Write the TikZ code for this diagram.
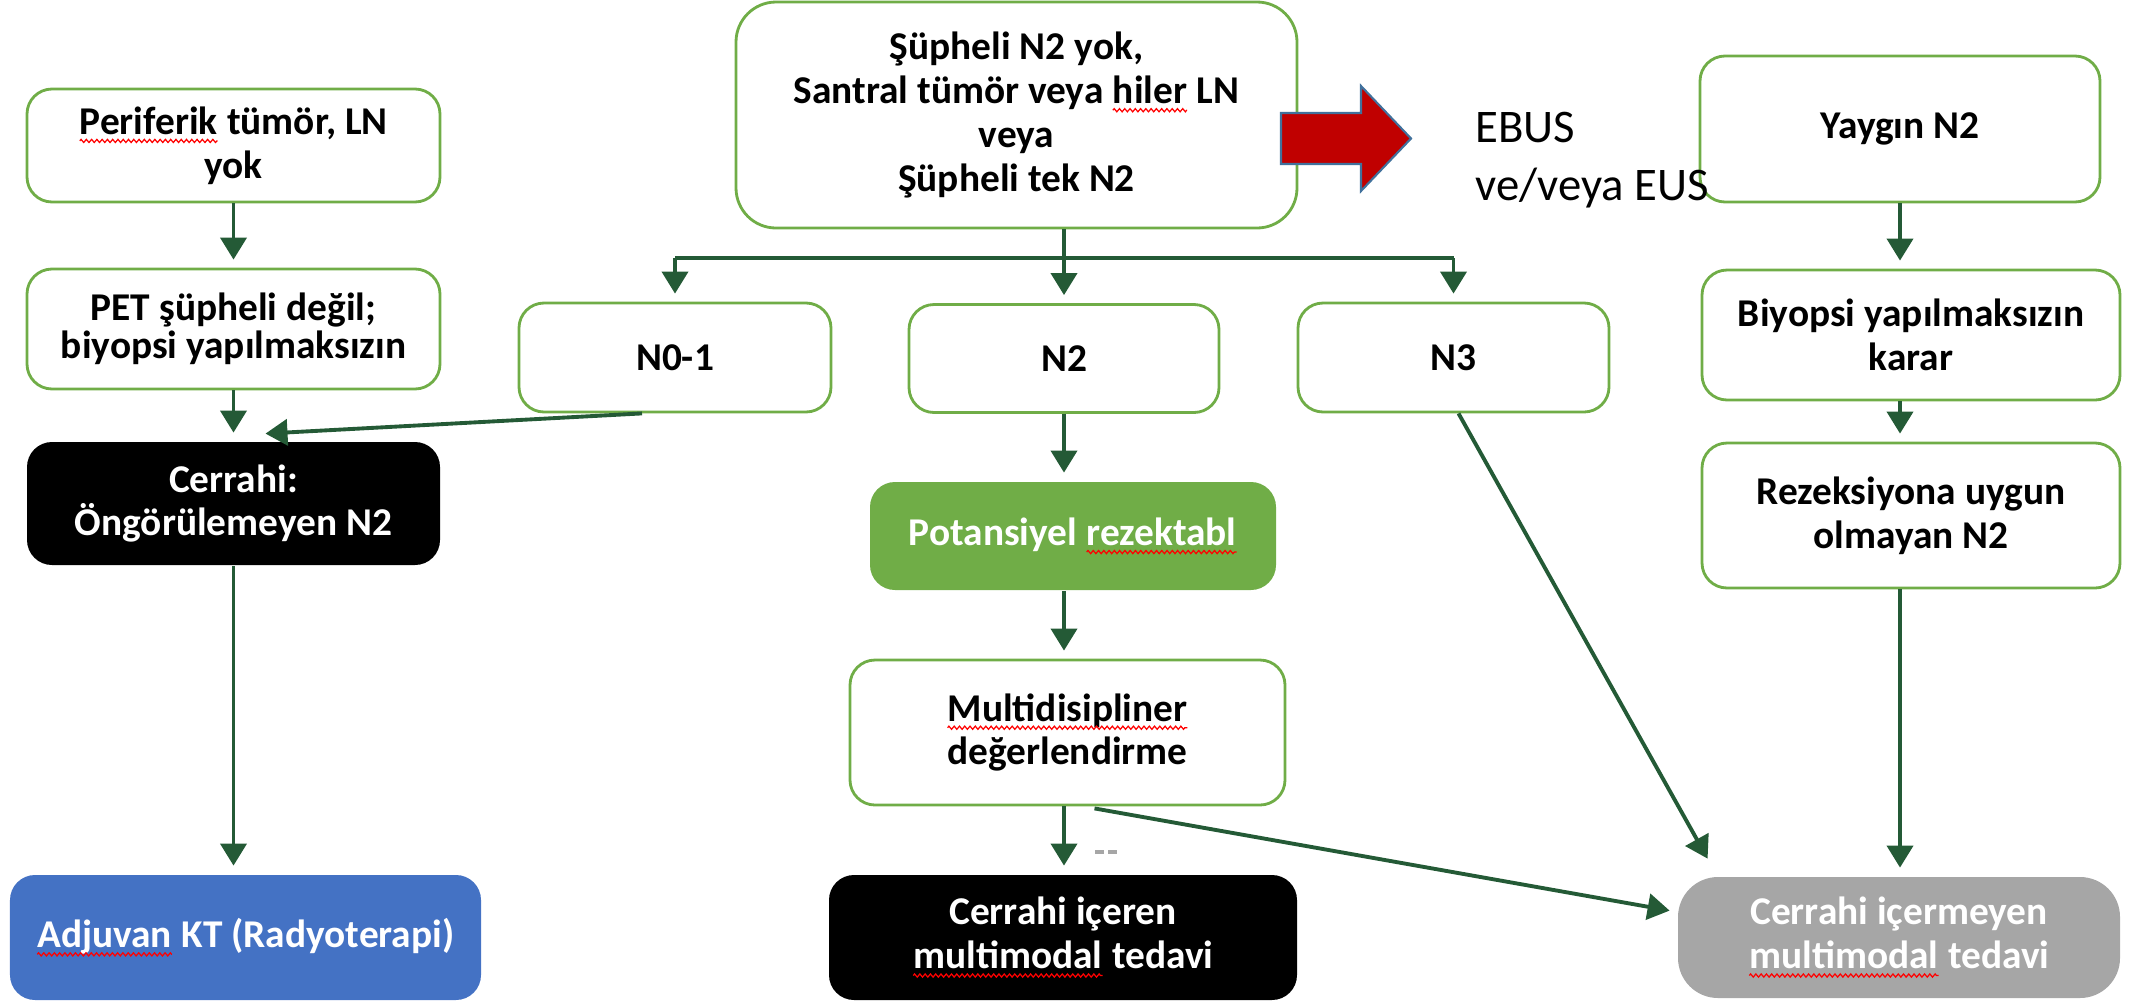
\documentclass[tikz,border=0pt]{standalone}
\usepackage{fontspec}
\setmainfont{Carlito}
\usetikzlibrary{arrows.meta,calc,decorations.pathmorphing}

% red wavy spell-check underline under a word
\newcommand\sqw[1]{\tikz[baseline=(sqwt.base)]{%
  \node[inner sep=0pt, outer sep=0pt, draw=none, fill=none, rounded corners=0pt,
    minimum width=0pt, minimum height=0pt, anchor=base] (sqwt) {#1};
  \draw[red, line width=0.35pt, rounded corners=0pt, decorate,
    decoration={zigzag, amplitude=0.45pt, segment length=1.5pt}]
    ([yshift=-1.9pt]sqwt.base west) -- ([yshift=-1.9pt]sqwt.base east);}}

\definecolor{bordergreen}{HTML}{70AD47}
\definecolor{linkgreen}{HTML}{245A36}
\definecolor{boxblue}{HTML}{4472C4}
\definecolor{boxgrey}{HTML}{A6A6A6}
\definecolor{arrowred}{HTML}{C00000}
\definecolor{arrowedge}{HTML}{41719C}

\tikzset{
  box/.style={draw=bordergreen, line width=0.8pt, rounded corners=0.25cm, fill=white,
    align=center, inner sep=0pt, font=\bfseries\fontsize{11.2}{12.5}\selectfont},
  darkbox/.style={box, draw=none, fill=black, text=white},
  link/.style={draw=linkgreen, line width=1.1pt, shorten >=0.08cm,
    -{Triangle[width=0.26cm,length=0.22cm]}},
  linkplain/.style={draw=linkgreen, line width=1.1pt},
}

\begin{document}
\begin{tikzpicture}
\useasboundingbox (0,0) rectangle (21.36,-10.01);

% left column
\node[box, minimum width=4.13cm, minimum height=1.13cm] (peri) at (2.335,-1.455)
  {\sqw{Periferik} tümör, LN\\yok};
\node[box, minimum width=4.13cm, minimum height=1.20cm,
  font=\bfseries\fontsize{11.2}{10.9}\selectfont] (pet) at (2.335,-3.29)
  {PET şüpheli değil;\\biyopsi yapılmaksızın};
\node[darkbox, minimum width=4.13cm, minimum height=1.23cm] (cerr1) at (2.335,-5.035)
  {Cerrahi:\\Öngörülemeyen N2};
\node[darkbox, fill=boxblue, minimum width=4.71cm, minimum height=1.25cm] (adj) at (2.455,-9.375)
  {\sqw{Adjuvan} KT (Radyoterapi)};

% centre column
\node[box, rounded corners=0.4cm, minimum width=5.61cm, minimum height=2.26cm] (top) at (10.165,-1.15)
  {Şüpheli N2 yok,\\Santral tümör veya \sqw{hiler} LN\\veya\\Şüpheli tek N2};
\node[box, minimum width=3.12cm, minimum height=1.09cm] (n01) at (6.75,-3.575) {N0-1};
\node[box, minimum width=3.10cm, minimum height=1.08cm] (n2) at (10.64,-3.585) {N2};
\node[box, minimum width=3.11cm, minimum height=1.09cm] (n3) at (14.535,-3.575) {N3};
\node[darkbox, fill=bordergreen, minimum width=4.06cm, minimum height=1.08cm] (pot) at (10.73,-5.36)
  {Potansiyel \sqw{rezektabl}};
\node[box, minimum width=4.35cm, minimum height=1.45cm] (multi) at (10.675,-7.325)
  {\sqw{Multidisipliner}\\değerlendirme};
\node[darkbox, minimum width=4.68cm, minimum height=1.25cm] (cerr2) at (10.63,-9.375)
  {Cerrahi içeren\\\sqw{multimodal} tedavi};

% right column
\node[box, minimum width=4.00cm, minimum height=1.46cm] (yay) at (19.00,-1.29) {Yaygın N2};
\node[box, minimum width=4.18cm, minimum height=1.30cm] (biy) at (19.11,-3.35)
  {Biyopsi yapılmaksızın\\karar};
\node[box, minimum width=4.18cm, minimum height=1.45cm] (rez) at (19.11,-5.155)
  {Rezeksiyona uygun\\olmayan N2};
\node[darkbox, fill=boxgrey, rounded corners=0.4cm, minimum width=4.42cm, minimum height=1.21cm]
  (grey) at (18.99,-9.375) {Cerrahi içermeyen\\\sqw{multimodal} tedavi};

% EBUS pointer
\draw[fill=arrowred, draw=arrowedge, line width=0.6pt]
  (12.81,-1.13) -- (13.61,-1.13) -- (13.61,-0.86) -- (14.11,-1.385)
  -- (13.61,-1.91) -- (13.61,-1.64) -- (12.81,-1.64) -- cycle;
\node[anchor=base west, inner sep=0pt, font=\fontsize{13.3}{16}\selectfont] (ebus1) at (14.75,-1.42) {EBUS};
\node[anchor=base west, inner sep=0pt, font=\fontsize{13.3}{16}\selectfont] (ebus2) at (14.75,-2.00) {ve/veya EUS};

% left column connectors
\draw[link] (peri.south) -- (pet.north);
\draw[link] (pet.south) -- (cerr1.north);
\draw[link] (cerr1.south) -- (adj.north -| cerr1.south);
\coordinate (n01out) at ($(n01.south)+(-0.33,0)$);
\coordinate (cerr1in) at ($(cerr1.north)+(0.32,0.07)$);
\draw[link, shorten >=0pt] (n01out) -- (cerr1in);

% fork below the top box
\coordinate (forktop) at (top.south -| n2.north);
\coordinate (fork) at ($(forktop |- 0,-2.58)$);
\draw[linkplain] (forktop) -- (fork);
\draw[linkplain] (n01.north |- fork) -- (n3.north |- fork);
\draw[link] (n01.north |- fork) -- (n01.north);
\draw[link] (fork) -- (n2.north);
\draw[link] (n3.north |- fork) -- (n3.north);

% centre column connectors
\draw[link] (n2.south) -- (pot.north -| n2.south);
\draw[link] (pot.south -| n2.south) -- (multi.north -| n2.south);
\draw[link] (multi.south -| n2.south) -- (cerr2.north -| n2.south);
\draw[gray!70, line width=1.3pt] (10.95,-8.52) -- (11.04,-8.52) (11.08,-8.52) -- (11.17,-8.52);
\coordinate (multiout) at ($(multi.south)+(0.27,-0.02)$);
\coordinate (greyin1) at ($(grey.north west)+(-0.07,-0.35)$);
\draw[link, shorten >=0pt] (multiout) -- (greyin1);
\coordinate (n3out) at ($(n3.south)+(0.05,0)$);
\coordinate (greyin2) at ($(grey.north west)+(0.31,0.17)$);
\draw[link, shorten >=0pt] (n3out) -- (greyin2);

% right column connectors
\draw[link] (yay.south) -- (biy.north -| yay.south);
\draw[link] (biy.south -| yay.south) -- (rez.north -| yay.south);
\draw[link] (rez.south -| yay.south) -- (grey.north -| yay.south);
\end{tikzpicture}
\end{document}
